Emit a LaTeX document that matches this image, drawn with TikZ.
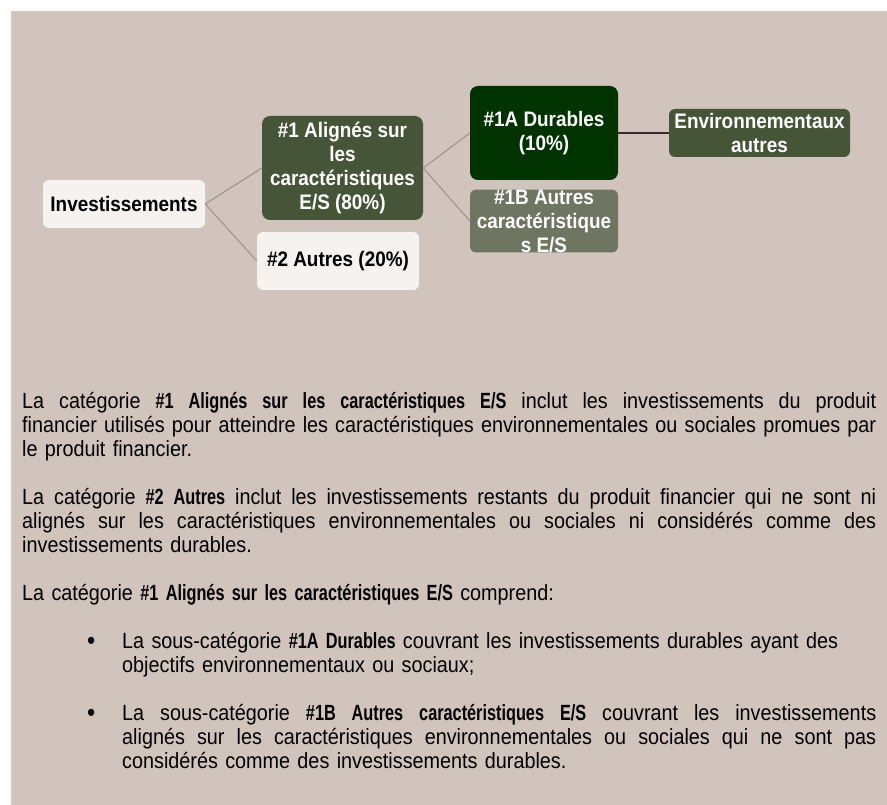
\documentclass[tikz,border=0pt]{standalone}
\usepackage{fontspec}
\setmainfont[FakeStretch=0.9]{Liberation Sans}
\newfontfamily\bodyfont[FakeStretch=0.9]{Liberation Sans}
\newfontfamily\bodyboldfont[FakeStretch=0.74]{Liberation Sans}
\newcommand{\bb}[1]{{\bodyboldfont\bfseries #1}}
\definecolor{panel}{HTML}{D1C4BC}
\definecolor{offwhite}{HTML}{F5F2EF}
\definecolor{olive}{HTML}{465537}
\definecolor{deepgreen}{HTML}{003300}
\definecolor{greygreen}{HTML}{6E7560}
\definecolor{thinline}{HTML}{A08F85}
\definecolor{thickline}{HTML}{3A2A27}
\tikzset{
  box/.style={rounded corners=6pt, inner sep=0pt, align=center,
    font=\fontsize{21}{24}\selectfont\bfseries},
  lightbox/.style={box, fill=offwhite, text=black},
  darkbox/.style={box, text=white},
  conn/.style={draw=thinline, line width=1pt},
  strong/.style={draw=thickline, line width=2.5pt},
  para/.style={anchor=base west, inner sep=0pt, align=left, text width=854pt,
    font=\bodyfont\fontsize{22}{24}\selectfont},
  bulletmark/.style={anchor=base west, inner sep=0pt, font=\fontsize{26}{24}\selectfont},
}
\newcommand{\jl}[1]{\hbox to 854pt{\spaceskip=0.25em plus 1fil minus 0.1em\relax #1}}
\newcommand{\jb}[1]{\hbox to 754pt{\spaceskip=0.25em plus 1fil minus 0.1em\relax #1}}
\begin{document}
\begin{tikzpicture}[x=1pt,y=-1pt]
\useasboundingbox (0,0) rectangle (887,805);
\fill[white] (0,0) rectangle (887,805);
\fill[panel] (11,11) rectangle (887,805);

\node[lightbox, minimum width=162pt, minimum height=48pt] (inv) at (124,204) {Investissements};
\node[darkbox, fill=olive, rounded corners=8pt, minimum width=161pt, minimum height=104pt] (a1) at (342.5,168) {\#1 Alignés sur\\les\\caractéristiques\\E/S (80\%)};
\node[lightbox, minimum width=162pt, minimum height=58pt] (a2) at (338,261) {\#2 Autres (20\%)};
\node[darkbox, fill=deepgreen, rounded corners=8pt, minimum width=148pt, minimum height=94pt] (d1a) at (544,133) {\#1A Durables\\(10\%)};
\node[darkbox, fill=greygreen, minimum width=148pt, minimum height=60pt] (d1b) at (544,221) {\#1B Autres\\caractéristique\\s E/S};
\node[darkbox, fill=olive, minimum width=181pt, minimum height=48pt] (env) at (759.5,133) {Environnementaux\\autres};

\draw[conn] (inv.east) -- (a1.west);
\draw[conn] (inv.east) -- (a2.west);
\draw[conn] (a1.east) -- (d1a.west);
\draw[conn] (a1.east) -- (d1b.west);
\draw[strong] (d1a.east) -- (env.west);

\node[para] (p1) at (22,408) {\jl{La catégorie \bb{\#1 Alignés sur les caractéristiques E/S} inclut les investissements du produit}
\jl{financier utilisés pour atteindre les caractéristiques environnementales ou sociales promues par}
\hbox{le produit financier.}};
\node[para] (p2) at (22,504) {\jl{La catégorie \bb{\#2 Autres} inclut les investissements restants du produit financier qui ne sont ni}
\jl{alignés sur les caractéristiques environnementales ou sociales ni considérés comme des}
\hbox{investissements durables.}};
\node[para] (p3) at (22,600) {La catégorie \bb{\#1 Alignés sur les caractéristiques E/S} comprend:};
\node[bulletmark] (bul1) at (87,649) {•};
\node[para, text width=754pt] (b1) at (122,648) {\hbox{La sous-catégorie \bb{\#1A Durables} couvrant les investissements durables ayant des}
\hbox{objectifs environnementaux ou sociaux;}};
\node[bulletmark] (bul2) at (87,721) {•};
\node[para, text width=754pt] (b2) at (122,720) {\jb{La sous-catégorie \bb{\#1B Autres caractéristiques E/S} couvrant les investissements}
\jb{alignés sur les caractéristiques environnementales ou sociales qui ne sont pas}
\hbox{considérés comme des investissements durables.}};
\end{tikzpicture}
\end{document}
